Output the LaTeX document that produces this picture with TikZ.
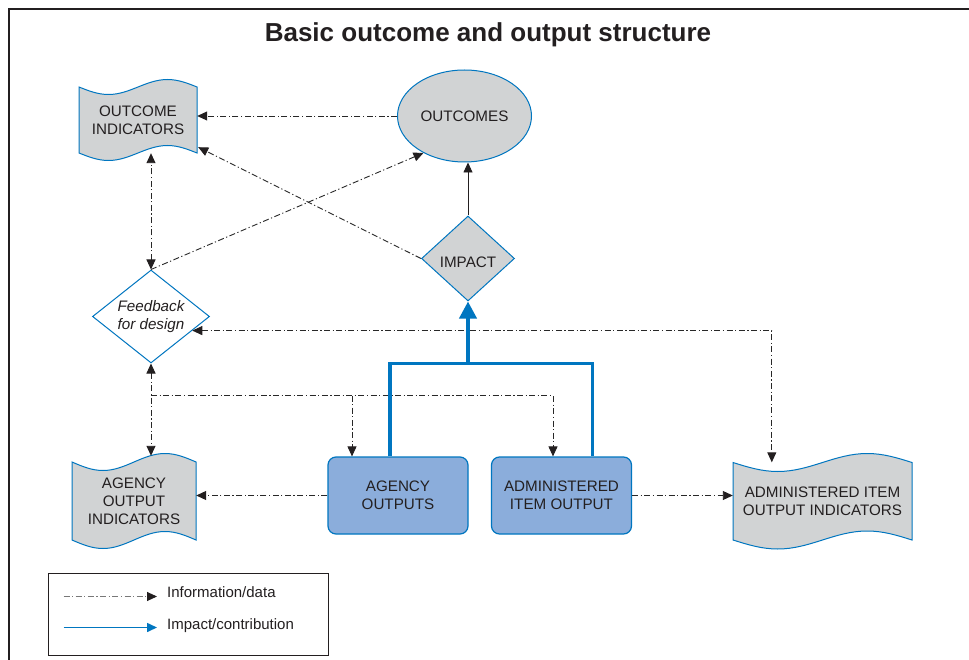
\documentclass[tikz,border=0pt]{standalone}
\usepackage{fontspec}
\setmainfont{Liberation Sans}
\usetikzlibrary{arrows.meta,shapes.geometric,calc}
\definecolor{bl}{RGB}{0,118,192}
\definecolor{gf}{RGB}{209,211,212}
\definecolor{bf}{RGB}{139,173,219}
\definecolor{tx}{RGB}{35,31,32}
\definecolor{dl}{RGB}{40,40,40}
\definecolor{lg}{RGB}{120,120,120}
% document (wavy) shape: name, x0, x1, ytop, ybottom, amplitude, text
\newcommand\docnode[7]{%
  \filldraw[docline] (#2,#4) sin ({#2+(#3-#2)/4},{#4+#6}) cos ({(#2+#3)/2},#4)
     sin ({#2+3*(#3-#2)/4},{#4-#6}) cos (#3,#4) -- (#3,#5)
     sin ({#2+3*(#3-#2)/4},{#5-#6}) cos ({(#2+#3)/2},#5)
     sin ({#2+(#3-#2)/4},{#5+#6}) cos (#2,#5) -- cycle;
  \node[boxtext, inner sep=0pt, minimum width={#3-#2}, minimum height={#5-#4}] (#1)
     at ({(#2+#3)/2},{(#4+#5)/2}) {#7};
}
\begin{document}
\begin{tikzpicture}[x=1pt,y=-1pt,
  boxtext/.style={text=tx, align=center, font=\fontsize{15.2}{17.8}\selectfont},
  docline/.style={draw=bl, fill=gf, line width=1pt},
  outbox/.style={boxtext, rectangle, rounded corners=8pt, draw=bl, fill=bf, line width=1.2pt,
                 minimum width=140pt, minimum height=77pt, inner sep=0pt},
  info/.style={draw=dl, line width=0.9pt, dash pattern=on 6pt off 2.5pt on 1.2pt off 2.5pt},
  tipb/.style={-{Triangle[length=10pt,width=9pt,color=tx]}},
  tipbb/.style={{Triangle[length=10pt,width=9pt,color=tx]}-{Triangle[length=10pt,width=9pt,color=tx]}},
  impact/.style={draw=bl, line width=3.8pt},
]
\useasboundingbox (0,0) rectangle (969,660);
\fill[white] (0,0) rectangle (969,660);
% frame
\draw[tx, line width=2.4pt] (969,9) -- (9,9) -- (9,660);
% title
\node[text=tx, font=\fontsize{26}{30}\selectfont\bfseries] (title) at (488,34.5) {Basic outcome and output structure};

% nodes
\node[boxtext, ellipse, draw=bl, fill=gf, line width=1pt, minimum width=134pt, minimum height=92pt, inner sep=0pt] (oc) at (464.5,116) {OUTCOMES};
\node[boxtext, diamond, draw=bl, fill=gf, line width=1pt, minimum width=93pt, minimum height=85pt, inner sep=0pt, shape aspect=1.1, text height=18pt, text depth=0pt] (imp) at (468,258.5) {IMPACT};
\node[boxtext, diamond, draw=bl, fill=white, line width=1pt, minimum width=117pt, minimum height=93pt, inner sep=0pt, shape aspect=1.26, font=\fontsize{15.2}{17.8}\selectfont\itshape] (fb) at (151,316.5) {Feedback\\for design};
\docnode{oi}{79}{197}{87}{153}{7.5}{OUTCOME\\INDICATORS}
\docnode{aoi}{72}{196}{462}{540}{8.5}{AGENCY\\OUTPUT\\INDICATORS}
\docnode{aio}{733}{912}{462.5}{540}{9}{ADMINISTERED ITEM\\OUTPUT INDICATORS}
\node[outbox] (ao) at (398,495.5) {AGENCY\\OUTPUTS};
\node[outbox] (ai) at (561.5,495.5) {ADMINISTERED\\ITEM OUTPUT};

% connectors
\draw[info,tipb] (oc.west) -- (oc.west -| oi.east);
\draw[info,tipb] (imp.west) -- ($(oi.south east)+(1,-6)$);
\draw[info,tipbb] (fb.north) -- (fb.north |- oi.south);
\draw[info,tipb] (fb.north) -- (oc.-138);
\draw[tx, line width=0.9pt, tipb] (imp.north) -- (imp.north |- oc.south);

\coordinate (fbr) at ($(fb.east)!0.3!(fb.south)$);
\coordinate (aiod) at ($(aio.north west)+(39,0)$);
\draw[info,tipbb] (fbr) -| (aiod);

\draw[info,tipbb,shorten >=6pt] (fb.south) -- (fb.south |- aoi.north);
\coordinate (br) at ($(fb.south)+(0,32)$);
\coordinate (aib) at ($(ai.north)+(-8.5,0)$);
\coordinate (aob) at ($(ao.north)+(-46,0)$);
\draw[info,tipb] (br) -| (aib);
\draw[info,tipb] (aob |- br) -- (aob);

\draw[info,tipb] (ao.west) -- (ao.west -| aoi.east);
\draw[info,tipb] (ai.east) -- (ai.east -| aio.west);

% impact lines
\coordinate (bj) at ($(imp.south)+(0,62)$);
\draw[impact] ($(ao.north)+(-8,0)$) |- (bj) -| ($(ai.north)+(31,0)$);
\draw[impact,-{Triangle[length=17pt,width=17pt]}] (bj) -- (imp.south);

% legend
\node[draw=tx, line width=0.9pt, minimum width=280pt, minimum height=82pt, inner sep=0pt] (leg) at (188,614) {};
\node[anchor=west, text=tx, font=\fontsize{15}{17}\selectfont, inner sep=0pt] (l1) at (167,592) {Information/data};
\node[anchor=west, text=tx, font=\fontsize{15}{17}\selectfont, inner sep=0pt] (l2) at (167,626) {Impact/contribution};
\coordinate (l1a) at (63.5,596.5);
\coordinate (l1b) at (157,596.5);
\coordinate (l2a) at (63.5,627.5);
\coordinate (l2b) at (157,627.5);
\draw[info, draw=lg, tipb] (l1a) -- (l1b);
\draw[draw=bl, line width=1.6pt, -{Triangle[length=10pt,width=9pt]}] (l2a) -- (l2b);
\end{tikzpicture}
\end{document}
